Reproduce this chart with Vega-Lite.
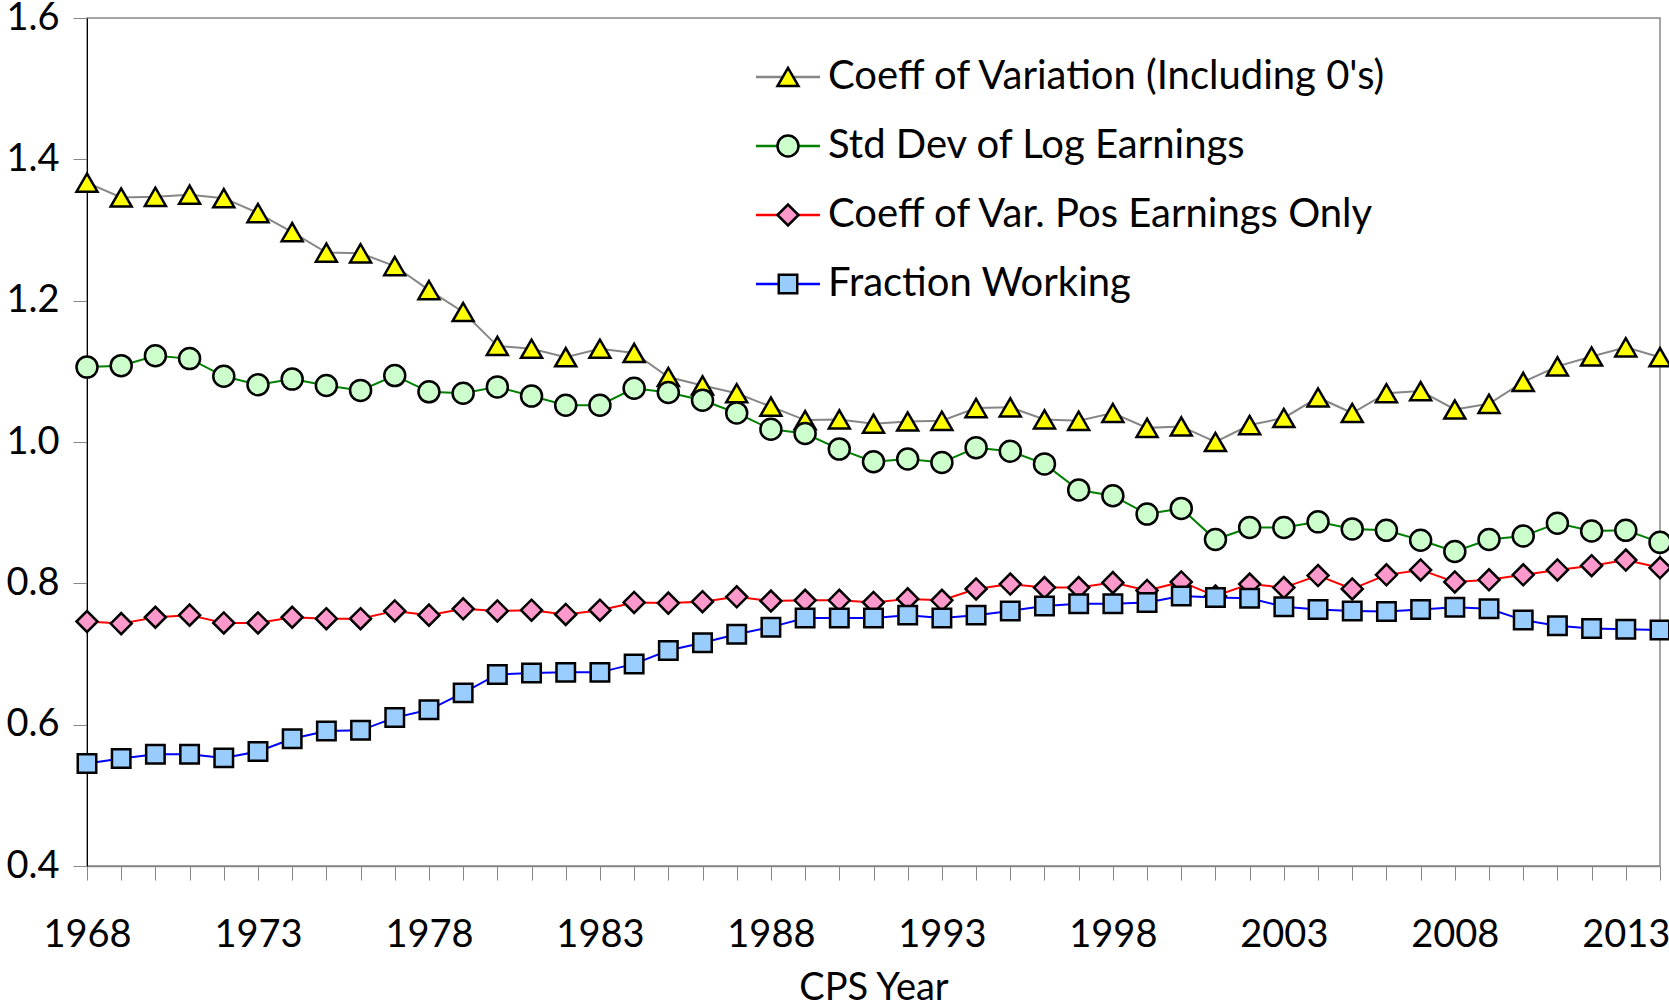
{
 "$schema": "https://vega.github.io/schema/vega-lite/v6.json",
 "width": 1573, "height": 848,
 "autosize": "none",
 "padding": {"left": 87, "top": 18, "right": 9, "bottom": 140},
 "background": "white",
 "config": {"font": "Lato", "view": {"stroke": "#868686", "strokeWidth": 1.5}, "axis": {"grid": false}},
 "data": {"values": [
  {"year":1968,"series":"Coeff of Variation (Including 0's)","value":1.367},{"year":1969,"series":"Coeff of Variation (Including 0's)","value":1.346},{"year":1970,"series":"Coeff of Variation (Including 0's)","value":1.347},{"year":1971,"series":"Coeff of Variation (Including 0's)","value":1.350},{"year":1972,"series":"Coeff of Variation (Including 0's)","value":1.345},{"year":1973,"series":"Coeff of Variation (Including 0's)","value":1.324},{"year":1974,"series":"Coeff of Variation (Including 0's)","value":1.297},{"year":1975,"series":"Coeff of Variation (Including 0's)","value":1.268},{"year":1976,"series":"Coeff of Variation (Including 0's)","value":1.267},{"year":1977,"series":"Coeff of Variation (Including 0's)","value":1.249},{"year":1978,"series":"Coeff of Variation (Including 0's)","value":1.215},{"year":1979,"series":"Coeff of Variation (Including 0's)","value":1.184},{"year":1980,"series":"Coeff of Variation (Including 0's)","value":1.136},{"year":1981,"series":"Coeff of Variation (Including 0's)","value":1.132},{"year":1982,"series":"Coeff of Variation (Including 0's)","value":1.120},{"year":1983,"series":"Coeff of Variation (Including 0's)","value":1.132},{"year":1984,"series":"Coeff of Variation (Including 0's)","value":1.126},{"year":1985,"series":"Coeff of Variation (Including 0's)","value":1.092},{"year":1986,"series":"Coeff of Variation (Including 0's)","value":1.080},{"year":1987,"series":"Coeff of Variation (Including 0's)","value":1.069},{"year":1988,"series":"Coeff of Variation (Including 0's)","value":1.050},{"year":1989,"series":"Coeff of Variation (Including 0's)","value":1.031},{"year":1990,"series":"Coeff of Variation (Including 0's)","value":1.032},{"year":1991,"series":"Coeff of Variation (Including 0's)","value":1.026},{"year":1992,"series":"Coeff of Variation (Including 0's)","value":1.029},{"year":1993,"series":"Coeff of Variation (Including 0's)","value":1.030},{"year":1994,"series":"Coeff of Variation (Including 0's)","value":1.048},{"year":1995,"series":"Coeff of Variation (Including 0's)","value":1.049},{"year":1996,"series":"Coeff of Variation (Including 0's)","value":1.032},{"year":1997,"series":"Coeff of Variation (Including 0's)","value":1.030},{"year":1998,"series":"Coeff of Variation (Including 0's)","value":1.041},{"year":1999,"series":"Coeff of Variation (Including 0's)","value":1.020},{"year":2000,"series":"Coeff of Variation (Including 0's)","value":1.022},{"year":2001,"series":"Coeff of Variation (Including 0's)","value":1.000},{"year":2002,"series":"Coeff of Variation (Including 0's)","value":1.024},{"year":2003,"series":"Coeff of Variation (Including 0's)","value":1.034},{"year":2004,"series":"Coeff of Variation (Including 0's)","value":1.063},{"year":2005,"series":"Coeff of Variation (Including 0's)","value":1.041},{"year":2006,"series":"Coeff of Variation (Including 0's)","value":1.069},{"year":2007,"series":"Coeff of Variation (Including 0's)","value":1.072},{"year":2008,"series":"Coeff of Variation (Including 0's)","value":1.046},{"year":2009,"series":"Coeff of Variation (Including 0's)","value":1.054},{"year":2010,"series":"Coeff of Variation (Including 0's)","value":1.085},{"year":2011,"series":"Coeff of Variation (Including 0's)","value":1.107},{"year":2012,"series":"Coeff of Variation (Including 0's)","value":1.121},{"year":2013,"series":"Coeff of Variation (Including 0's)","value":1.134},{"year":2014,"series":"Coeff of Variation (Including 0's)","value":1.120},
  {"year":1968,"series":"Std Dev of Log Earnings","value":1.106},{"year":1969,"series":"Std Dev of Log Earnings","value":1.108},{"year":1970,"series":"Std Dev of Log Earnings","value":1.122},{"year":1971,"series":"Std Dev of Log Earnings","value":1.118},{"year":1972,"series":"Std Dev of Log Earnings","value":1.093},{"year":1973,"series":"Std Dev of Log Earnings","value":1.081},{"year":1974,"series":"Std Dev of Log Earnings","value":1.089},{"year":1975,"series":"Std Dev of Log Earnings","value":1.080},{"year":1976,"series":"Std Dev of Log Earnings","value":1.073},{"year":1977,"series":"Std Dev of Log Earnings","value":1.094},{"year":1978,"series":"Std Dev of Log Earnings","value":1.071},{"year":1979,"series":"Std Dev of Log Earnings","value":1.069},{"year":1980,"series":"Std Dev of Log Earnings","value":1.078},{"year":1981,"series":"Std Dev of Log Earnings","value":1.065},{"year":1982,"series":"Std Dev of Log Earnings","value":1.052},{"year":1983,"series":"Std Dev of Log Earnings","value":1.052},{"year":1984,"series":"Std Dev of Log Earnings","value":1.076},{"year":1985,"series":"Std Dev of Log Earnings","value":1.070},{"year":1986,"series":"Std Dev of Log Earnings","value":1.059},{"year":1987,"series":"Std Dev of Log Earnings","value":1.041},{"year":1988,"series":"Std Dev of Log Earnings","value":1.018},{"year":1989,"series":"Std Dev of Log Earnings","value":1.012},{"year":1990,"series":"Std Dev of Log Earnings","value":0.990},{"year":1991,"series":"Std Dev of Log Earnings","value":0.972},{"year":1992,"series":"Std Dev of Log Earnings","value":0.976},{"year":1993,"series":"Std Dev of Log Earnings","value":0.971},{"year":1994,"series":"Std Dev of Log Earnings","value":0.992},{"year":1995,"series":"Std Dev of Log Earnings","value":0.987},{"year":1996,"series":"Std Dev of Log Earnings","value":0.969},{"year":1997,"series":"Std Dev of Log Earnings","value":0.932},{"year":1998,"series":"Std Dev of Log Earnings","value":0.924},{"year":1999,"series":"Std Dev of Log Earnings","value":0.898},{"year":2000,"series":"Std Dev of Log Earnings","value":0.906},{"year":2001,"series":"Std Dev of Log Earnings","value":0.862},{"year":2002,"series":"Std Dev of Log Earnings","value":0.879},{"year":2003,"series":"Std Dev of Log Earnings","value":0.879},{"year":2004,"series":"Std Dev of Log Earnings","value":0.887},{"year":2005,"series":"Std Dev of Log Earnings","value":0.877},{"year":2006,"series":"Std Dev of Log Earnings","value":0.875},{"year":2007,"series":"Std Dev of Log Earnings","value":0.861},{"year":2008,"series":"Std Dev of Log Earnings","value":0.845},{"year":2009,"series":"Std Dev of Log Earnings","value":0.862},{"year":2010,"series":"Std Dev of Log Earnings","value":0.867},{"year":2011,"series":"Std Dev of Log Earnings","value":0.885},{"year":2012,"series":"Std Dev of Log Earnings","value":0.874},{"year":2013,"series":"Std Dev of Log Earnings","value":0.875},{"year":2014,"series":"Std Dev of Log Earnings","value":0.858},
  {"year":1968,"series":"Coeff of Var. Pos Earnings Only","value":0.746},{"year":1969,"series":"Coeff of Var. Pos Earnings Only","value":0.743},{"year":1970,"series":"Coeff of Var. Pos Earnings Only","value":0.752},{"year":1971,"series":"Coeff of Var. Pos Earnings Only","value":0.755},{"year":1972,"series":"Coeff of Var. Pos Earnings Only","value":0.744},{"year":1973,"series":"Coeff of Var. Pos Earnings Only","value":0.744},{"year":1974,"series":"Coeff of Var. Pos Earnings Only","value":0.752},{"year":1975,"series":"Coeff of Var. Pos Earnings Only","value":0.750},{"year":1976,"series":"Coeff of Var. Pos Earnings Only","value":0.750},{"year":1977,"series":"Coeff of Var. Pos Earnings Only","value":0.761},{"year":1978,"series":"Coeff of Var. Pos Earnings Only","value":0.755},{"year":1979,"series":"Coeff of Var. Pos Earnings Only","value":0.764},{"year":1980,"series":"Coeff of Var. Pos Earnings Only","value":0.761},{"year":1981,"series":"Coeff of Var. Pos Earnings Only","value":0.762},{"year":1982,"series":"Coeff of Var. Pos Earnings Only","value":0.756},{"year":1983,"series":"Coeff of Var. Pos Earnings Only","value":0.762},{"year":1984,"series":"Coeff of Var. Pos Earnings Only","value":0.773},{"year":1985,"series":"Coeff of Var. Pos Earnings Only","value":0.772},{"year":1986,"series":"Coeff of Var. Pos Earnings Only","value":0.774},{"year":1987,"series":"Coeff of Var. Pos Earnings Only","value":0.781},{"year":1988,"series":"Coeff of Var. Pos Earnings Only","value":0.775},{"year":1989,"series":"Coeff of Var. Pos Earnings Only","value":0.776},{"year":1990,"series":"Coeff of Var. Pos Earnings Only","value":0.776},{"year":1991,"series":"Coeff of Var. Pos Earnings Only","value":0.773},{"year":1992,"series":"Coeff of Var. Pos Earnings Only","value":0.778},{"year":1993,"series":"Coeff of Var. Pos Earnings Only","value":0.776},{"year":1994,"series":"Coeff of Var. Pos Earnings Only","value":0.792},{"year":1995,"series":"Coeff of Var. Pos Earnings Only","value":0.799},{"year":1996,"series":"Coeff of Var. Pos Earnings Only","value":0.794},{"year":1997,"series":"Coeff of Var. Pos Earnings Only","value":0.794},{"year":1998,"series":"Coeff of Var. Pos Earnings Only","value":0.801},{"year":1999,"series":"Coeff of Var. Pos Earnings Only","value":0.790},{"year":2000,"series":"Coeff of Var. Pos Earnings Only","value":0.802},{"year":2001,"series":"Coeff of Var. Pos Earnings Only","value":0.782},{"year":2002,"series":"Coeff of Var. Pos Earnings Only","value":0.799},{"year":2003,"series":"Coeff of Var. Pos Earnings Only","value":0.794},{"year":2004,"series":"Coeff of Var. Pos Earnings Only","value":0.811},{"year":2005,"series":"Coeff of Var. Pos Earnings Only","value":0.792},{"year":2006,"series":"Coeff of Var. Pos Earnings Only","value":0.812},{"year":2007,"series":"Coeff of Var. Pos Earnings Only","value":0.819},{"year":2008,"series":"Coeff of Var. Pos Earnings Only","value":0.802},{"year":2009,"series":"Coeff of Var. Pos Earnings Only","value":0.805},{"year":2010,"series":"Coeff of Var. Pos Earnings Only","value":0.812},{"year":2011,"series":"Coeff of Var. Pos Earnings Only","value":0.819},{"year":2012,"series":"Coeff of Var. Pos Earnings Only","value":0.825},{"year":2013,"series":"Coeff of Var. Pos Earnings Only","value":0.833},{"year":2014,"series":"Coeff of Var. Pos Earnings Only","value":0.822},
  {"year":1968,"series":"Fraction Working","value":0.545},{"year":1969,"series":"Fraction Working","value":0.552},{"year":1970,"series":"Fraction Working","value":0.558},{"year":1971,"series":"Fraction Working","value":0.558},{"year":1972,"series":"Fraction Working","value":0.553},{"year":1973,"series":"Fraction Working","value":0.562},{"year":1974,"series":"Fraction Working","value":0.580},{"year":1975,"series":"Fraction Working","value":0.591},{"year":1976,"series":"Fraction Working","value":0.592},{"year":1977,"series":"Fraction Working","value":0.610},{"year":1978,"series":"Fraction Working","value":0.621},{"year":1979,"series":"Fraction Working","value":0.645},{"year":1980,"series":"Fraction Working","value":0.671},{"year":1981,"series":"Fraction Working","value":0.673},{"year":1982,"series":"Fraction Working","value":0.674},{"year":1983,"series":"Fraction Working","value":0.674},{"year":1984,"series":"Fraction Working","value":0.686},{"year":1985,"series":"Fraction Working","value":0.705},{"year":1986,"series":"Fraction Working","value":0.716},{"year":1987,"series":"Fraction Working","value":0.728},{"year":1988,"series":"Fraction Working","value":0.738},{"year":1989,"series":"Fraction Working","value":0.751},{"year":1990,"series":"Fraction Working","value":0.751},{"year":1991,"series":"Fraction Working","value":0.751},{"year":1992,"series":"Fraction Working","value":0.755},{"year":1993,"series":"Fraction Working","value":0.751},{"year":1994,"series":"Fraction Working","value":0.755},{"year":1995,"series":"Fraction Working","value":0.761},{"year":1996,"series":"Fraction Working","value":0.768},{"year":1997,"series":"Fraction Working","value":0.771},{"year":1998,"series":"Fraction Working","value":0.771},{"year":1999,"series":"Fraction Working","value":0.773},{"year":2000,"series":"Fraction Working","value":0.782},{"year":2001,"series":"Fraction Working","value":0.780},{"year":2002,"series":"Fraction Working","value":0.779},{"year":2003,"series":"Fraction Working","value":0.767},{"year":2004,"series":"Fraction Working","value":0.763},{"year":2005,"series":"Fraction Working","value":0.761},{"year":2006,"series":"Fraction Working","value":0.760},{"year":2007,"series":"Fraction Working","value":0.763},{"year":2008,"series":"Fraction Working","value":0.766},{"year":2009,"series":"Fraction Working","value":0.764},{"year":2010,"series":"Fraction Working","value":0.748},{"year":2011,"series":"Fraction Working","value":0.740},{"year":2012,"series":"Fraction Working","value":0.736},{"year":2013,"series":"Fraction Working","value":0.735},{"year":2014,"series":"Fraction Working","value":0.734}
 ]},
 "encoding": {
  "x": {"field": "year", "type": "quantitative",
   "scale": {"domain": [1968, 2014], "nice": false, "zero": false},
   "axis": {"title": "CPS Year", "values": [1968,1969,1970,1971,1972,1973,1974,1975,1976,1977,1978,1979,1980,1981,1982,1983,1984,1985,1986,1987,1988,1989,1990,1991,1992,1993,1994,1995,1996,1997,1998,1999,2000,2001,2002,2003,2004,2005,2006,2007,2008,2009,2010,2011,2012,2013,2014],
    "format": "d", "labelExpr": "(datum.value - 1968) % 5 == 0 ? datum.label : ''",
    "tickSize": 14, "tickColor": "#868686", "domainColor": "#868686", "domainWidth": 1.5,
    "labelFontSize": 38, "labelColor": "black", "labelPadding": 36, "labelOverlap": false, "labelFlush": false, "labelBound": false,
    "titleFontSize": 38, "titleFontWeight": "normal", "titleColor": "black", "titlePadding": 15}},
  "y": {"field": "value", "type": "quantitative",
   "scale": {"domain": [0.4, 1.6], "nice": false, "zero": false},
   "axis": {"title": null, "values": [0.4, 0.6, 0.8, 1.0, 1.2, 1.4, 1.6], "format": ".1f",
    "tickSize": 14, "tickColor": "#868686", "domainColor": "black", "domainWidth": 1,
    "labelFontSize": 38, "labelColor": "black", "labelPadding": 14, "labelOverlap": false, "labelFlush": false}}
 },
 "layer": [
  {"mark": {"type": "line", "strokeWidth": 2},
   "encoding": {
    "color": {"field": "series", "type": "nominal",
     "scale": {"domain": ["Coeff of Variation (Including 0's)", "Std Dev of Log Earnings", "Coeff of Var. Pos Earnings Only", "Fraction Working"], "range": ["#868686", "#008000", "#ff0000", "#0000ff"]},
     "legend": {"orient": "none", "legendX": 681, "legendY": 39, "title": null, "symbolType": "M-3.05,0L3.05,0", "symbolSize": 441, "symbolStrokeWidth": 2.5, "labelFontSize": 40, "labelColor": "black", "labelOffset": 20, "rowPadding": 29, "labelLimit": 1000, "padding": 0}}
   }},
  {"transform": [{"calculate": "datum.series + ' '", "as": "marker"}],
   "mark": {"type": "point", "filled": true, "stroke": "black", "strokeWidth": 2.5, "opacity": 1, "size": 441},
   "encoding": {
    "fill": {"field": "marker", "type": "nominal",
     "scale": {"domain": ["Coeff of Variation (Including 0's) ", "Std Dev of Log Earnings ", "Coeff of Var. Pos Earnings Only ", "Fraction Working "], "range": ["#ffff00", "#ccffcc", "#ff99cc", "#99ccff"]},
     "legend": {"orient": "none", "legendX": 681, "legendY": 39, "title": null, "symbolSize": 441, "symbolStrokeColor": "black", "symbolStrokeWidth": 2.5, "labelFontSize": 40, "labelOpacity": 0, "labelOffset": 20, "rowPadding": 29, "labelLimit": 1000, "padding": 0}},
    "shape": {"field": "marker", "type": "nominal",
     "scale": {"domain": ["Coeff of Variation (Including 0's) ", "Std Dev of Log Earnings ", "Coeff of Var. Pos Earnings Only ", "Fraction Working "], "range": ["triangle-up", "circle", "diamond", "M-0.88,-0.88L0.88,-0.88L0.88,0.88L-0.88,0.88Z"]}}
   }}
 ]
}
